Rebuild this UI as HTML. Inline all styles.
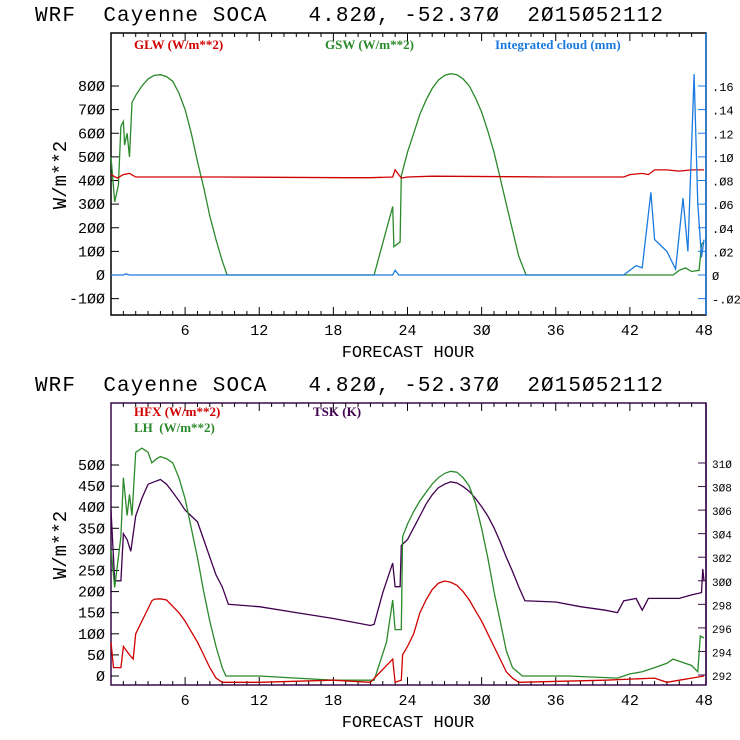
<!DOCTYPE html>
<html><head><meta charset="utf-8"><style>
body{margin:0;background:#fff;}
svg{display:block;font-family:"Liberation Mono",monospace;}
.t{font-size:21px;fill:#000;white-space:pre;}
.tk{font-size:15px;fill:#000;}
.lg{font-family:"Liberation Serif",serif;font-size:13px;font-weight:bold;white-space:pre;}
</style></head><body>
<svg id="c" width="740" height="740" viewBox="0 0 740 740" xmlns="http://www.w3.org/2000/svg" xml:space="preserve"></svg>
<script>
// ---- top panel data ----
const gswHours=[0,0.3,0.6,0.8,1.0,1.1,1.3,1.5,1.7,2,2.5,3,3.5,4,4.5,5,5.5,6,6.5,7,7.5,8,8.5,9,9.4,21.3,22.8,22.9,23.4,23.5,24,24.5,25,25.5,26,26.5,27,27.5,28,28.5,29,29.5,30,30.5,31,31.5,32,32.5,33,33.6,45.5,46,46.5,47,47.6,47.8,48];
const gswVals=[500,310,380,630,650,550,600,500,730,760,800,830,845,848,840,820,770,700,600,480,370,250,150,60,0,0,290,120,140,420,520,600,680,740,790,825,845,852,848,830,800,750,690,610,520,410,300,190,80,0,0,20,30,15,20,130,140];
const glwHours=[0,0.5,1,1.5,2,9,19,21,22.8,23,23.5,24,26,36,41.5,42,43,43.5,44,45,46,47,48];
const glwVals=[425,410,425,430,415,415,412,412,415,445,410,415,418,415,415,425,430,425,445,445,440,445,445];
const cldHours=[0,1,1.2,1.5,22.8,23,23.3,41.5,42.5,43,43.7,44,44.5,45,45.7,46.3,46.7,47.2,47.5,47.8,48];
const cldVals=[0,0,0.001,0,0,0.004,0,0,0.008,0.006,0.07,0.03,0.025,0.02,0.005,0.065,0.02,0.17,0.06,0.015,0.03];
// ---- bottom panel data ----
const lhHours=[0,0.3,0.8,1.0,1.3,1.5,1.7,2,2.5,3,3.3,3.7,4,4.5,5,5.5,6,6.5,7,7.5,8,8.5,9,9.3,12,15,18,21.3,22.3,22.8,23,23.5,23.6,24,24.5,25,25.5,26,26.5,27,27.5,28,28.5,29,29.5,30,30.5,31,31.5,32,32.5,33.3,37,41,42,43,44,45,45.5,46,47,47.5,47.7,48];
const lhVals=[300,210,330,470,380,430,380,530,540,530,505,515,520,515,505,470,420,350,280,200,130,70,20,0,0,-5,-10,-10,80,180,110,110,330,360,390,415,435,455,470,480,485,483,470,450,410,350,280,200,130,60,20,0,0,-5,5,10,20,30,40,35,25,10,95,90];
const hfxHours=[0,0.2,0.8,1,1.5,1.8,2,2.5,3,3.3,3.5,4,4.5,5,5.5,6,6.5,7,7.5,8,8.5,9,12,18,21,22.8,23,23.5,23.6,24,24.5,25,25.5,26,26.5,27,27.5,28,28.5,29,29.5,30,30.5,31,31.5,32,32.5,33,40,44,45,46,47,48];
const hfxVals=[80,20,20,70,50,40,100,130,160,178,182,183,180,165,150,130,105,80,50,20,-5,-15,-15,-10,-15,40,-15,-10,50,70,100,150,180,205,220,225,222,215,200,180,155,130,100,70,40,10,-5,-15,-10,-5,-15,-10,-5,0];
const tskHours=[0,0.3,0.8,1,1.3,1.6,2,2.5,3,3.5,4,4.5,5,5.5,6,6.5,7,7.5,8,8.5,9,9.5,12,15,18,21,21.3,22,22.8,23,23.4,23.5,24,24.5,25,25.5,26,26.5,27,27.5,28,28.5,29,29.5,30,30.5,31,31.5,32,32.5,33,33.5,36,38,40,41,41.5,42.5,43,43.5,46,47,47.8,47.9,48];
const tskVals=[306,300,300,304,303.5,302.5,305.5,307,308.2,308.4,308.6,308.2,307.5,306.8,306,305.5,305,303.5,302,300.5,299.5,298,297.8,297.3,296.8,296.2,296.3,299,301.5,299.5,299.5,303,303.5,304.5,305.5,306.5,307.3,307.9,308.2,308.4,308.3,308,307.6,307,306.3,305.5,304.5,303.3,302,300.8,299.5,298.3,298.2,297.8,297.5,297.3,298.3,298.5,297.5,298.5,298.5,298.8,299,301,300];
const xTicks=[6,12,18,24,30,36,42,48];
const topYTicks=[-100,0,100,200,300,400,500,600,700,800];
const topRTicks=[-0.02,0,0.02,0.04,0.06,0.08,0.10,0.12,0.14,0.16];
const topRLabels=["-.02","0",".02",".04",".06",".08",".10",".12",".14",".16"];
const botYTicks=[0,50,100,150,200,250,300,350,400,450,500];
const botRTicks=[292,294,296,298,300,302,304,306,308,310];

const NS="http://www.w3.org/2000/svg";
const svg=document.getElementById('c');
function el(tag,attrs,parent){const e=document.createElementNS(NS,tag);for(const k in attrs)e.setAttribute(k,attrs[k]);(parent||svg).appendChild(e);return e;}
const X0=111,X1=704;
const xs=h=>X0+(X1-X0)*h/48;
function lin(v0,p0,v1,p1){return v=>p0+(v-v0)*(p1-p0)/(v1-v0);}
function path(g,hs,vs,fy,color,name){
  let d='';hs.forEach((h,i)=>{d+=(i?'L':'M')+xs(h).toFixed(1)+','+fy(vs[i]).toFixed(1);});
  const p=el('path',{d:d,fill:'none',stroke:color,'stroke-width':1.3},g);
  
  
}
function text(g,x,y,s,cls,anchor,fill){const t=el('text',{x:x,y:y,class:cls,'text-anchor':anchor||'start'},g);if(fill)t.setAttribute('fill',fill);t.textContent=s;return t;}

function panel(oy,name,yT,yF,rT,rL,rF,rColor,frameColor,rSize){
  const g=el('g',{});
  
  
  const tt=text(g,35,oy+21,"WRF  Cayenne SOCA   4.820, -52.370  2015052112".replace(/0/g,'Ø'),'t');
  
  
  tt.setAttribute('textLength','628');
  tt.setAttribute('lengthAdjust','spacing');
  const top=oy+33,bot=oy+315;
  const f=el('rect',{x:X0,y:top,width:X1-X0+2,height:bot-top,fill:'none',stroke:frameColor,'stroke-width':1.5},g);
  
  
  el('line',{x1:X1+2,y1:top,x2:X1+2,y2:bot,stroke:rColor,'stroke-width':1.5},g);
  for(let h=1;h<48;h++){const len=h%6==0?8:4;
    el('line',{x1:xs(h),y1:bot,x2:xs(h),y2:bot-len,stroke:'#000'},g);
    el('line',{x1:xs(h),y1:top,x2:xs(h),y2:top+len,stroke:'#000'},g);}
  xTicks.forEach(h=>{const t=text(g,xs(h),bot+20,String(h).replace(/0/g,'Ø'),'tk','middle');});
  const xl=text(g,408,bot+42,'FORECAST HOUR','tk','middle');xl.style.fontSize='17px';
  yT.forEach(v=>{const y=yF(v);el('line',{x1:X0,y1:y,x2:X0+8,y2:y,stroke:'#000'},g);
    const t=text(g,X0-6,y+5,String(v).replace(/0/g,'Ø'),'tk','end');});
  rT.forEach((v,i)=>{const y=rF(v);el('line',{x1:X1+2,y1:y,x2:X1-6,y2:y,stroke:rColor},g);
    const t=text(g,X1+8,y+5,rL[i].replace(/0/g,'Ø'),'tk','start');t.style.fontSize=rSize;});
  const yl=text(g,0,0,'W/m**2','tk','middle');yl.setAttribute('transform',`translate(66,${oy+175}) rotate(-90)`);yl.style.fontSize='19px';
  
  return g;
}
// top
const tyF=lin(0,275,800,86), trF=lin(0,275,0.16,86);
const g1=panel(0,'top-panel',topYTicks,tyF,topRTicks,topRLabels,trF,'#1a7ae0','#000','12px');
path(g1,gswHours,gswVals,tyF,'#2a8a2a','gsw-line');
path(g1,glwHours,glwVals,tyF,'#d00000','glw-line');
path(g1,cldHours,cldVals,trF,'#1a7ae0','cloud-line');
let l;
l=text(g1,134,49,'GLW (W/m**2)','lg','start','#d00000');
l=text(g1,325,49,'GSW (W/m**2)','lg','start','#2a8a2a');
l=text(g1,495,49,'Integrated cloud (mm)','lg','start','#1a7ae0');
// bottom
const byF=lin(0,676,500,465), brF=lin(292,675,310,463);
const g2=panel(370,'bottom-panel',botYTicks,byF,botRTicks,botRTicks.map(String),brF,'#3a0a4a','#3a0a4a','11px');
path(g2,tskHours,tskVals,brF,'#400050','tsk-line');
path(g2,lhHours,lhVals,byF,'#2a8a2a','lh-line');
path(g2,hfxHours,hfxVals,byF,'#d00000','hfx-line');
l=text(g2,134,416,'HFX (W/m**2)','lg','start','#d00000');
l=text(g2,134,432,'LH  (W/m**2)','lg','start','#2a8a2a');
l=text(g2,313,416,'TSK (K)','lg','start','#400050');
</script>
</body></html>
